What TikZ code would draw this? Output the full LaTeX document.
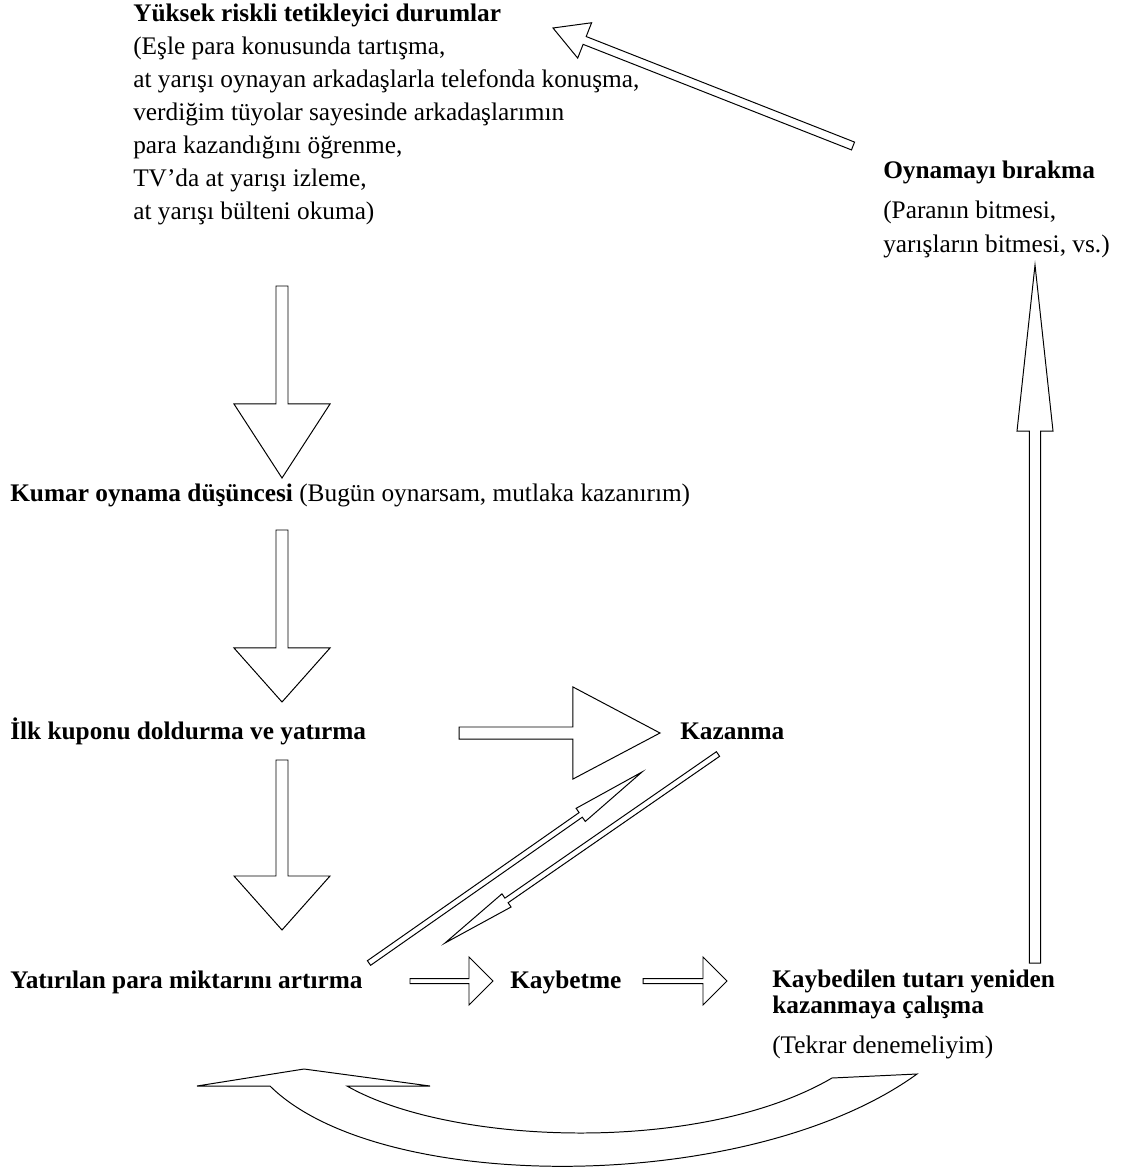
\documentclass[tikz,border=0pt]{standalone}
\usepackage{fontspec}
\setmainfont{Liberation Serif}
\usetikzlibrary{calc}

\tikzset{
  blockarrow/.style={draw, line width=0.7pt, fill=white, line join=miter},
  lbl/.style={anchor=base west, inner sep=0pt, align=left, font=\fontsize{18}{24.2}\selectfont}
}

\newcommand{\blockarrow}[5]{%
  \coordinate (ba-h) at ($(#2)!#4!(#1)$);
  \draw[blockarrow]
    ($(#1)!#3!90:(#2)$) -- ($(ba-h)!#3!90:(#2)$) -- ($(ba-h)!#5!90:(#2)$)
    -- (#2) -- ($(ba-h)!#5!-90:(#2)$) -- ($(ba-h)!#3!-90:(#2)$)
    -- ($(#1)!#3!-90:(#2)$) -- cycle;
}

\begin{document}
\begin{tikzpicture}[x=0.025cm, y=-0.025cm]
\useasboundingbox (0,0) rectangle (1120,1168);

\node[lbl] (trigger) at (133,22) {\textbf{Yüksek riskli tetikleyici durumlar}};
\node[lbl, font=\fontsize{18}{23.47}\selectfont] (trigger-list) at (133,220) {(Eşle para konusunda tartışma,\\at yarışı oynayan arkadaşlarla telefonda konuşma,\\verdiğim tüyolar sayesinde arkadaşlarımın\\para kazandığını öğrenme,\\TV’da at yarışı izleme,\\at yarışı bülteni okuma)};
\node[lbl] (quit) at (883,179) {\textbf{Oynamayı bırakma}};
\node[lbl] (quit-list) at (883,253) {(Paranın bitmesi,\\yarışların bitmesi, vs.)};
\node[lbl] (thought) at (10,501) {\textbf{Kumar oynama düşüncesi} (Bugün oynarsam, mutlaka kazanırım)};
\node[lbl] (first) at (10,739) {\textbf{İlk kuponu doldurma ve yatırma}};
\node[lbl] (win) at (680,739) {\textbf{Kazanma}};
\node[lbl] (raise) at (10,988) {\textbf{Yatırılan para miktarını artırma}};
\node[lbl] (lose) at (510,988) {\textbf{Kaybetme}};
\node[lbl, font=\fontsize{18}{17.8}\selectfont] (chase) at (772,1013) {\textbf{Kaybedilen tutarı yeniden}\\\textbf{kazanmaya çalışma}};
\node[lbl] (chase-note) at (772,1053) {(Tekrar denemeliyim)};

\coordinate (trigger-out) at (282,286);
\coordinate (thought-in)  at (282,478);
\coordinate (thought-out) at (282,530);
\coordinate (first-in)    at (282,702);
\coordinate (first-out)   at (282,760);
\coordinate (raise-in)    at (282,930);
\coordinate (first-right) at (459,733);
\coordinate (win-in)      at (660,733);
\coordinate (raise-up)    at (369,963);
\coordinate (win-up)      at (642,772);
\coordinate (win-down)    at (718,754);
\coordinate (raise-back)  at (445,943);
\coordinate (raise-right) at (410,981);
\coordinate (lose-in)     at (493,981);
\coordinate (lose-right)  at (643,981);
\coordinate (chase-in)    at (727,981);
\coordinate (chase-up)    at (1035,963);
\coordinate (quit-in)     at (1035,265);
\coordinate (quit-out)    at (853,146);
\coordinate (trigger-in)  at (553,28);

\blockarrow{trigger-out}{thought-in}{0.15cm}{1.85cm}{1.2cm}
\blockarrow{thought-out}{first-in}{0.15cm}{1.35cm}{1.2cm}
\blockarrow{first-out}{raise-in}{0.15cm}{1.35cm}{1.2cm}
\blockarrow{first-right}{win-in}{0.15cm}{2.175cm}{1.15cm}
\blockarrow{raise-up}{win-up}{0.07cm}{1.87cm}{0.2cm}
\blockarrow{win-down}{raise-back}{0.07cm}{1.87cm}{0.2cm}
\blockarrow{raise-right}{lose-in}{0.0625cm}{0.6cm}{0.6cm}
\blockarrow{lose-right}{chase-in}{0.0625cm}{0.6cm}{0.6cm}
\blockarrow{chase-up}{quit-in}{0.14cm}{4.15cm}{0.45cm}
\blockarrow{quit-out}{trigger-in}{0.105cm}{0.85cm}{0.475cm}

\coordinate (loop-tip) at (197,1086);
\coordinate (loop-end) at (917,1074);
\draw[blockarrow] (loop-tip) -- (304,1069) -- (430,1086) -- (347,1086)
  .. controls (450,1145) and (700,1155) .. (832,1078) -- (loop-end)
  .. controls (750,1195) and (380,1195) .. (270,1086) -- cycle;
\end{tikzpicture}
\end{document}
